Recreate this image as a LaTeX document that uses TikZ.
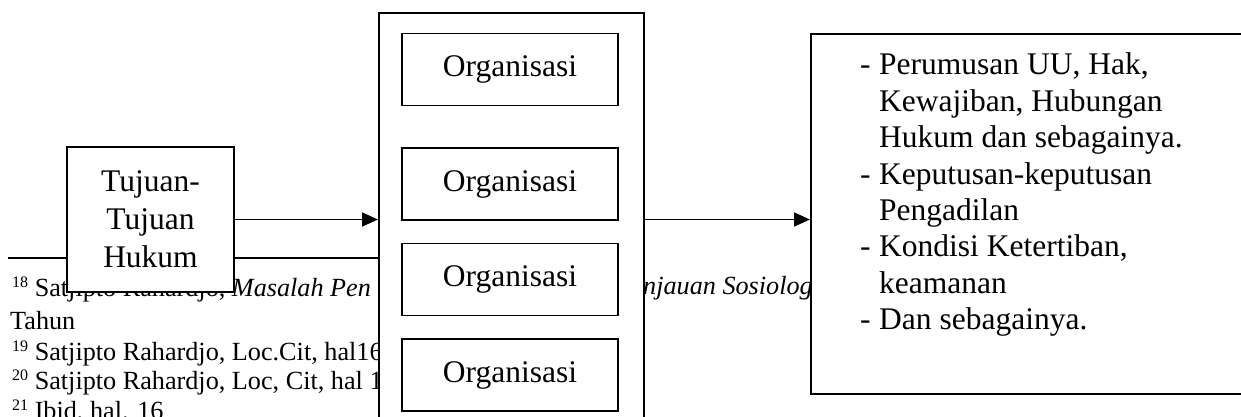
\documentclass[tikz,border=0pt]{standalone}
\usepackage{fontspec}
\setmainfont{Liberation Serif}
\usetikzlibrary{arrows.meta}
\newcommand\boxfs{\fontsize{31.5}{38}\selectfont}
\newcommand\listfs{\fontsize{31.5}{36.4}\selectfont}
\newcommand\footfs{\fontsize{26.2}{31}\selectfont}
\newcommand\fnmark[1]{\raisebox{9pt}{\fontsize{16}{16}\selectfont #1}}
\begin{document}
\begin{tikzpicture}[x=1pt,y=-1pt,
  box/.style={draw, line width=1.8pt, fill=white, inner sep=0pt},
  orgbox/.style={box, minimum width=216pt, minimum height=72pt, font=\boxfs},
  arr/.style={line width=1.8pt, -{Triangle[length=16pt,width=14pt]}},
  fn/.style={anchor=base west, inner sep=0pt, font=\footfs}]
\useasboundingbox (0,0) rectangle (1241,417);
\clip (0,0) rectangle (1241,417);
% footnote area (partly hidden behind the boxes)
\coordinate (sepL) at (8,258);
\coordinate (sepR) at (378,258);
\draw[line width=1.8pt] (sepL) -- (sepR);
\node[fn] (f18) at (12,296) {\fnmark{18} Satjipto Rahardjo, \textit{Masalah Pen}};
\node[fn] (f18b) at (643,294) {\textit{njauan Sosiolog}};
\node[fn] (f18c) at (10,329) {Tahun};
\node[fn] (f19) at (12,360) {\fnmark{19} Satjipto Rahardjo, Loc.Cit, hal16};
\node[fn] (f20) at (12,389) {\fnmark{20} Satjipto Rahardjo, Loc, Cit, hal 1};
\node[fn] (f21) at (12,419) {\fnmark{21} Ibid, hal. 16};
% boxes
\node[box, anchor=north west, minimum width=265pt, minimum height=420pt] (org) at (378,12) {};
\node[orgbox] (o1) at (510,69.5) {Organisasi};
\node[orgbox] (o2) at (510,184) {Organisasi};
\node[orgbox] (o3) at (510,279.5) {Organisasi};
\node[orgbox] (o4) at (510,375) {Organisasi};
\node[box, minimum width=167pt, minimum height=145pt, align=center, font=\boxfs] (tuj) at (150.5,219.5) {Tujuan-\\Tujuan\\Hukum};
\node[box, anchor=north west, minimum width=450pt, minimum height=360pt] (res) at (810,33) {};
\node[anchor=base west, inner sep=0pt, font=\listfs] (list) at (860,75) {\begin{tabular}[t]{@{}p{19pt}@{}l@{}}
-&Perumusan UU, Hak,\\
 &Kewajiban, Hubungan\\
 &Hukum dan sebagainya.\\
-&Keputusan-keputusan\\
 &Pengadilan\\
-&Kondisi Ketertiban,\\
 &keamanan\\
-&Dan sebagainya.
\end{tabular}};
% arrows
\draw[arr] (tuj.east) -- (tuj.east -| org.west);
\draw[arr] (org.east |- tuj.east) -- (tuj.east -| res.west);
\end{tikzpicture}
\end{document}
